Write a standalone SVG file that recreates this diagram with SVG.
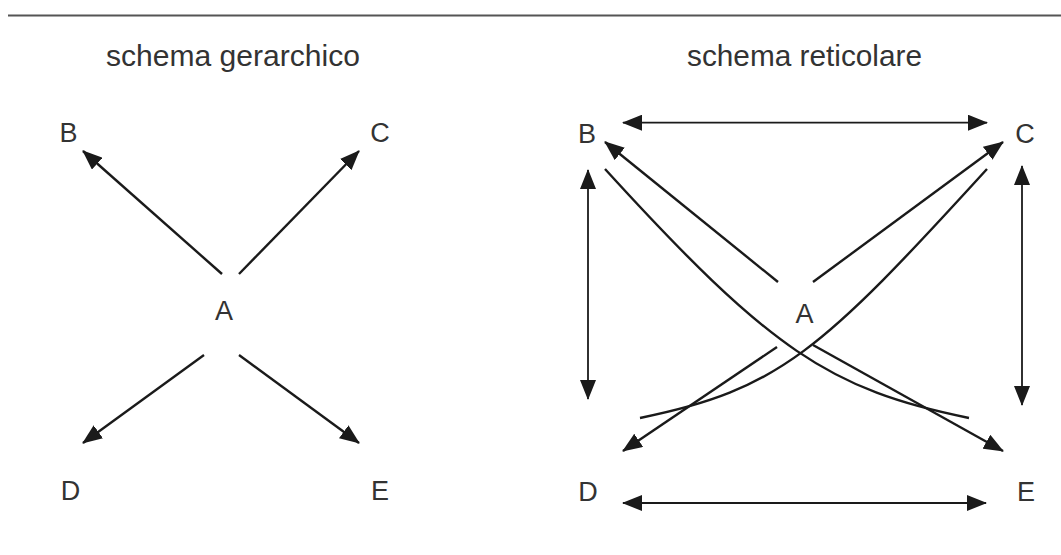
<svg xmlns="http://www.w3.org/2000/svg" width="1061" height="555" viewBox="0 0 1061 555">
<style>
.title{font-family:"Liberation Sans",Arial,sans-serif;font-size:30px;fill:#333}
.lbl{font-family:"Liberation Sans",Arial,sans-serif;font-size:27px;fill:#333;text-anchor:middle}
.ln{stroke:#1a1a1a;stroke-width:2.4;fill:none}
.ar{marker-end:url(#ah)}
.dbl{marker-start:url(#ah);marker-end:url(#ah)}
.v{stroke-width:1.8}
</style>
<defs>
<marker id="ah" viewBox="0 0 20 16" refX="19" refY="8" markerWidth="20" markerHeight="16" markerUnits="userSpaceOnUse" orient="auto-start-reverse">
<path d="M0,0 L20,8 L0,16 z" fill="#1a1a1a"/>
</marker>
</defs>
<line x1="8" y1="15.5" x2="1061" y2="15.5" stroke="#555" stroke-width="2"/>
<text class="title" x="106" y="66" textLength="254" lengthAdjust="spacingAndGlyphs">schema gerarchico</text>
<text class="title" x="687" y="66" textLength="235" lengthAdjust="spacingAndGlyphs">schema reticolare</text>

<g id="h-A"><text class="lbl" x="224" y="320">A</text></g>
<g id="h-B"><text class="lbl" x="68.5" y="142">B</text></g>
<g id="h-C"><text class="lbl" x="380" y="142">C</text></g>
<g id="h-D"><text class="lbl" x="70.5" y="500">D</text></g>
<g id="h-E"><text class="lbl" x="380" y="500">E</text></g>

<g id="r-A"><text class="lbl" x="804.5" y="323">A</text></g>
<g id="r-B"><text class="lbl" x="587" y="143">B</text></g>
<g id="r-C"><text class="lbl" x="1025" y="143">C</text></g>
<g id="r-D"><text class="lbl" x="588" y="501">D</text></g>
<g id="r-E"><text class="lbl" x="1026" y="501">E</text></g>

<g id="connectors">
<line class="ln ar" x1="222" y1="274" x2="83" y2="151"/>
<line class="ln ar" x1="239" y1="274" x2="359" y2="151"/>
<line class="ln ar" x1="204" y1="355" x2="83" y2="443"/>
<line class="ln ar" x1="239" y1="355" x2="359" y2="443"/>

<line class="ln dbl v" x1="623" y1="122.7" x2="987" y2="122.7"/>
<line class="ln dbl v" x1="623" y1="503" x2="986" y2="503"/>
<line class="ln dbl v" x1="588" y1="170" x2="588" y2="399"/>
<line class="ln dbl v" x1="1022" y1="166" x2="1022" y2="405"/>
<line class="ln ar" x1="778" y1="282" x2="605" y2="142"/>
<line class="ln ar" x1="813" y1="282" x2="1003" y2="142"/>
<line class="ln ar" x1="777" y1="347" x2="623" y2="451"/>
<line class="ln ar" x1="813" y1="345" x2="1003" y2="451"/>
<path class="ln" d="M605,169 C770,350 830,390 969,418"/>
<path class="ln" d="M987,169 C822,350 779,390 640,418"/>
</g>
</svg>
